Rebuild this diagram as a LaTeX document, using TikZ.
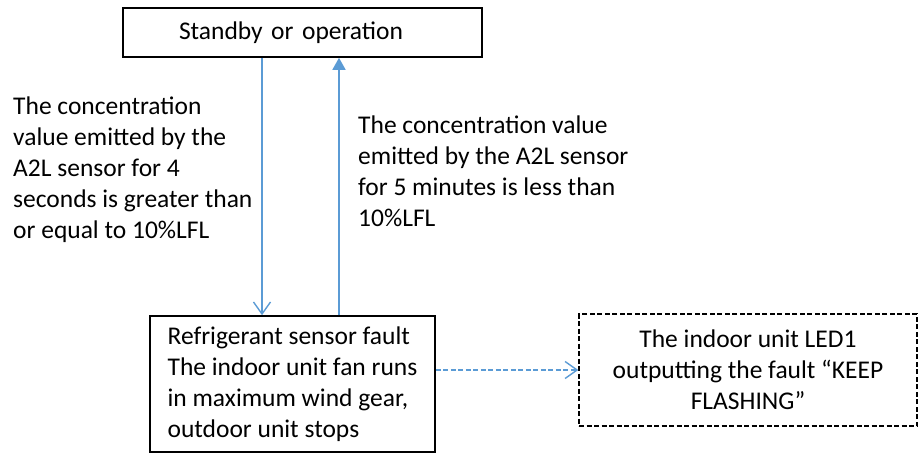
\documentclass[tikz,border=0pt]{standalone}
\usepackage{fontspec}
\setmainfont{Carlito}
\usetikzlibrary{arrows.meta}
\definecolor{flowblue}{RGB}{91,155,213}

\begin{document}
\begin{tikzpicture}[x = 1pt, y = -1pt, yscale = 1, xscale = 1,
  every node/.style = {font = \fontsize{25.5}{31}\selectfont, inner sep = 0pt},
  solidbox/.style = {draw, line width = 1.6pt},
  dashbox/.style = {draw, line width = 1.4pt, dash pattern = on 5pt off 2.5pt},
  flow/.style = {flowblue, line width = 1.6pt},
  openhead/.style = {-{Straight Barb[length = 12pt, width = 17pt, line width = 1.4pt]}},
  fillhead/.style = {-{Triangle[length = 12pt, width = 13pt]}}]
\useasboundingbox (0, 0) rectangle (919, 456);

\node [solidbox, minimum width = 359pt, minimum height = 49pt, text width = 247pt, align = left] (standby) at (302.5, 32.5) {Standby or operation};

\node [solidbox, minimum width = 285pt, minimum height = 136pt, align = left] (fault) at (292.5, 384) {Refrigerant sensor fault\\The indoor unit fan runs\\in maximum wind gear,\\outdoor unit stops};

\node [dashbox, minimum width = 338pt, minimum height = 112pt, align = center] (led) at (748, 370) {The indoor unit LED1\\outputting the fault “KEEP\\FLASHING”};

\node [anchor = north west, align = left] (goin) at (13, 97) {The concentration\\value emitted by the\\A2L sensor for 4\\seconds is greater than\\or equal to 10\%LFL};
\node [anchor = north west, align = left] (goback) at (358, 116) {The concentration value\\emitted by the A2L sensor\\for 5 minutes is less than\\10\%LFL};

\draw [flow, openhead] (standby.south -| 262, 0) -- (fault.north -| 262, 0);
\draw [flow, fillhead] (fault.north -| 339, 0) -- (standby.south -| 339, 0);
\draw [flow, openhead, dash pattern = on 5pt off 2.5pt] (fault.east) ++(0, -14) coordinate (tap) -- (tap -| led.west);
\end{tikzpicture}
\end{document}
